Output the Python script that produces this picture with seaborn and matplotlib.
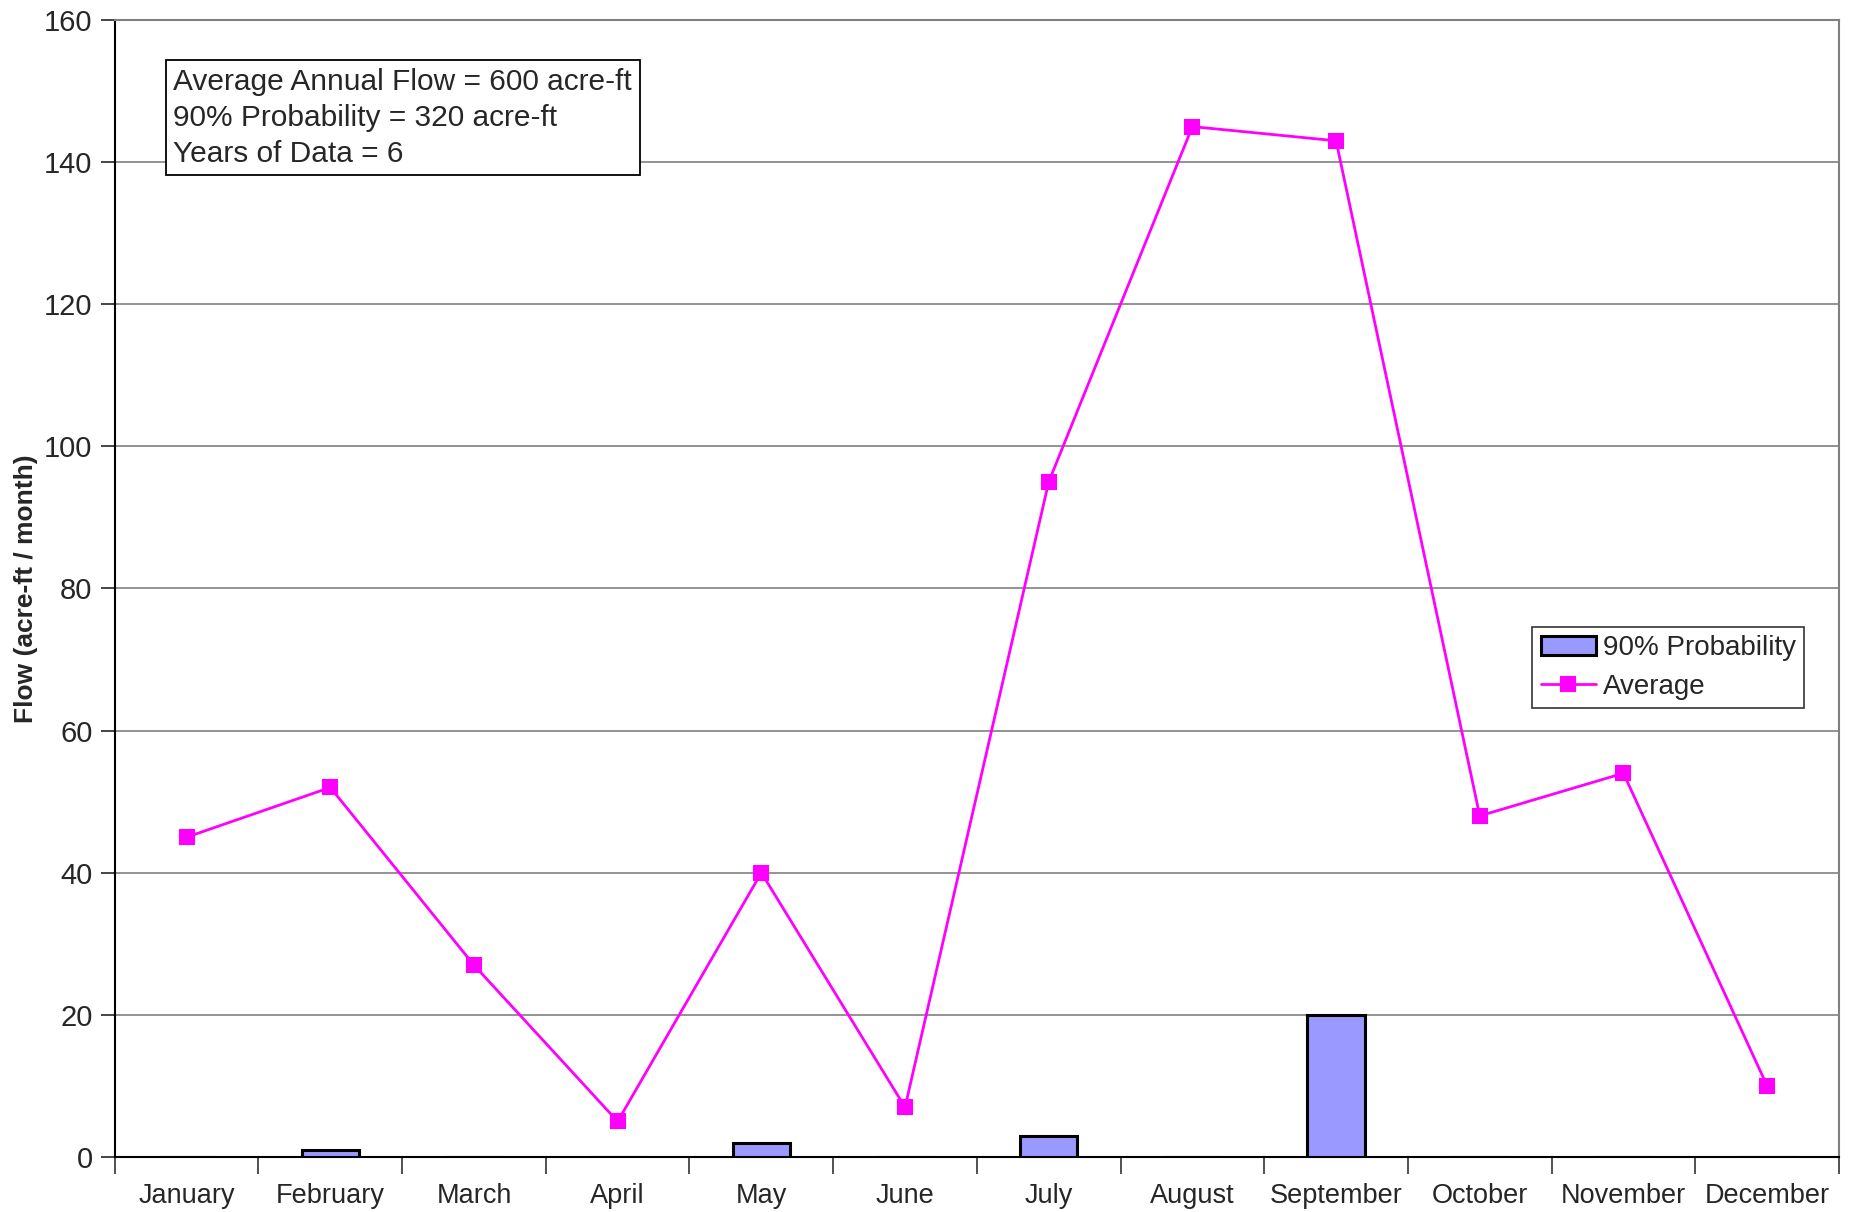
import numpy as np
import pandas as pd
import matplotlib
matplotlib.use('Agg')
import matplotlib.pyplot as plt
import seaborn as sns

# chart values
months = ['January', 'February', 'March', 'April', 'May', 'June',
          'July', 'August', 'September', 'October', 'November', 'December']
prob90 = [0, 1, 0, 0, 2, 0, 3, 0, 20, 0, 0, 0]
average = [45, 52, 27, 5, 40, 7, 95, 145, 143, 48, 54, 10]
info_lines = ['Average Annual Flow = 600 acre-ft',
              '90% Probability = 320 acre-ft',
              'Years of Data = 6']

df = pd.DataFrame({'Month': months, 'Prob90': prob90, 'Average': average})

sns.set_style('white')
plt.rcParams['font.family'] = ['Liberation Sans', 'DejaVu Sans']

fig = plt.figure(figsize=(18.51, 12.12), dpi=100)
ax = fig.add_axes([0.062, 0.0454, 0.9315, 0.9381])

sns.barplot(data=df, x='Month', y='Prob90', ax=ax, color='#9999FF',
            saturation=1, width=0.4, edgecolor='black', linewidth=2.2,
            label='90% Probability', zorder=3)
sns.pointplot(data=df, x='Month', y='Average', ax=ax, color='#FF00FF',
              markers='s', markersize=10, linewidth=2, label='Average',
              zorder=4)

ax.set_ylim(0, 160)
ax.set_xlim(-0.5, 11.5)
ax.set_yticks(np.arange(0, 161, 20))
ax.yaxis.grid(True, color='#808080', linewidth=1.2, zorder=0)
ax.set_axisbelow(True)

# Excel-style ticks between categories
ax.set_xticks(np.arange(-0.5, 12, 1), minor=True)
ax.tick_params(axis='x', which='major', length=0, pad=19, labelsize=19.5)
ax.tick_params(axis='x', which='minor', length=12, width=1.2, color='#333333',
               direction='out', bottom=True)
ax.tick_params(axis='y', length=10, width=1.2, direction='out', left=True,
               labelsize=21, pad=6)

for side in ['top', 'right']:
    ax.spines[side].set_color('#808080')
    ax.spines[side].set_linewidth(1.5)
for side in ['left', 'bottom']:
    ax.spines[side].set_color('black')
    ax.spines[side].set_linewidth(1.5)

ax.set_xlabel('')
ax.set_ylabel('Flow (acre-ft / month)', fontsize=19, fontweight='bold',
              labelpad=4)

ax.text(0.034, 0.958, '\n'.join(info_lines), transform=ax.transAxes,
        fontsize=21.5, va='top', ha='left', linespacing=1.36, zorder=5,
        bbox=dict(boxstyle='square,pad=0.25', fc='white', ec='black', lw=1.3))

handles, labels = ax.get_legend_handles_labels()
order = [labels.index('90% Probability'), labels.index('Average')]
leg = ax.legend([handles[i] for i in order], [labels[i] for i in order],
                loc='upper right', bbox_to_anchor=(0.98, 0.466), fontsize=20,
                frameon=True, fancybox=False, edgecolor='black',
                handlelength=2.0, handletextpad=0.25, borderpad=0.3,
                labelspacing=0.45, borderaxespad=0)
leg.get_frame().set_linewidth(1.2)

fig.savefig('out.png', dpi=100)
